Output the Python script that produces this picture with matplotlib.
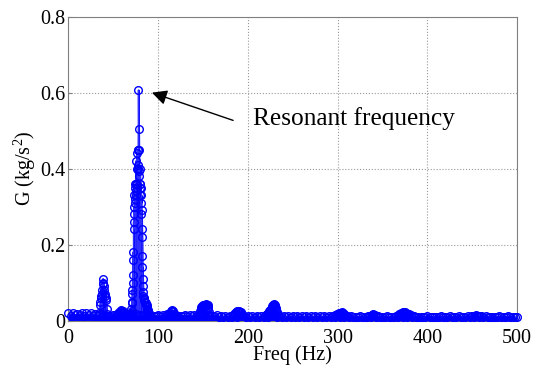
import numpy as np
import matplotlib
matplotlib.use('Agg')
import matplotlib.pyplot as plt

plt.rcParams['font.family'] = 'Liberation Serif'
plt.rcParams['mathtext.fontset'] = 'custom'
plt.rcParams['mathtext.rm'] = 'Liberation Serif'

# noise floor, every 2.5 Hz
base_f = [0, 2.5, 5, 7.5, 10, 12.5, 15, 17.5, 20, 22.5,
          25, 27.5, 30, 32.5, 35, 37.5, 40, 42.5, 45, 47.5,
          50, 52.5, 55, 57.5, 60, 62.5, 65, 67.5, 70, 72.5,
          75, 77.5, 80, 82.5, 85, 87.5, 90, 92.5, 95, 97.5,
          100, 102.5, 105, 107.5, 110, 112.5, 115, 117.5, 120, 122.5,
          125, 127.5, 130, 132.5, 135, 137.5, 140, 142.5, 145, 147.5,
          150, 152.5, 155, 157.5, 160, 162.5, 165, 167.5, 170, 172.5,
          175, 177.5, 180, 182.5, 185, 187.5, 190, 192.5, 195, 197.5,
          200, 202.5, 205, 207.5, 210, 212.5, 215, 217.5, 220, 222.5,
          225, 227.5, 230, 232.5, 235, 237.5, 240, 242.5, 245, 247.5,
          250, 252.5, 255, 257.5, 260, 262.5, 265, 267.5, 270, 272.5,
          275, 277.5, 280, 282.5, 285, 287.5, 290, 292.5, 295, 297.5,
          300, 302.5, 305, 307.5, 310, 312.5, 315, 317.5, 320, 322.5,
          325, 327.5, 330, 332.5, 335, 337.5, 340, 342.5, 345, 347.5,
          350, 352.5, 355, 357.5, 360, 362.5, 365, 367.5, 370, 372.5,
          375, 377.5, 380, 382.5, 385, 387.5, 390, 392.5, 395, 397.5,
          400, 402.5, 405, 407.5, 410, 412.5, 415, 417.5, 420, 422.5,
          425, 427.5, 430, 432.5, 435, 437.5, 440, 442.5, 445, 447.5,
          450, 452.5, 455, 457.5, 460, 462.5, 465, 467.5, 470, 472.5,
          475, 477.5, 480, 482.5, 485, 487.5, 490, 492.5, 495, 497.5,
          500]
base_g = [0.019, 0.013, 0.020, 0.014, 0.018, 0.014, 0.021, 0.013, 0.019, 0.014,
          0.020, 0.013, 0.017, 0.012, 0.016, 0.012, 0.014, 0.011, 0.013, 0.011,
          0.014, 0.012, 0.016, 0.012, 0.019, 0.013, 0.018, 0.012, 0.016, 0.013,
          0.016, 0.013, 0.014, 0.012, 0.016, 0.011, 0.014, 0.011, 0.013, 0.011,
          0.014, 0.011, 0.015, 0.012, 0.016, 0.011, 0.015, 0.011, 0.014, 0.011,
          0.013, 0.011, 0.014, 0.011, 0.015, 0.012, 0.014, 0.011, 0.013, 0.011,
          0.016, 0.011, 0.014, 0.011, 0.013, 0.011, 0.014, 0.010, 0.012, 0.010,
          0.013, 0.010, 0.012, 0.010, 0.014, 0.010, 0.015, 0.011, 0.013, 0.010,
          0.013, 0.010, 0.012, 0.010, 0.013, 0.010, 0.012, 0.010, 0.014, 0.010,
          0.016, 0.011, 0.014, 0.010, 0.013, 0.010, 0.012, 0.010, 0.012, 0.010,
          0.011, 0.009, 0.012, 0.009, 0.011, 0.009, 0.012, 0.009, 0.011, 0.009,
          0.011, 0.009, 0.012, 0.009, 0.011, 0.009, 0.011, 0.009, 0.012, 0.009,
          0.013, 0.010, 0.012, 0.009, 0.011, 0.009, 0.011, 0.009, 0.010, 0.009,
          0.011, 0.009, 0.010, 0.009, 0.011, 0.009, 0.012, 0.009, 0.011, 0.009,
          0.010, 0.009, 0.011, 0.009, 0.010, 0.009, 0.011, 0.009, 0.012, 0.009,
          0.013, 0.009, 0.012, 0.009, 0.011, 0.009, 0.010, 0.009, 0.010, 0.009,
          0.011, 0.009, 0.010, 0.009, 0.010, 0.009, 0.011, 0.009, 0.010, 0.009,
          0.011, 0.009, 0.010, 0.009, 0.011, 0.009, 0.010, 0.009, 0.011, 0.009,
          0.011, 0.009, 0.012, 0.009, 0.011, 0.009, 0.011, 0.009, 0.010, 0.009,
          0.010, 0.009, 0.011, 0.009, 0.010, 0.009, 0.011, 0.009, 0.010, 0.009,
          0.010]

# sub-harmonic peak near 38 Hz
p38_f = [34, 34.5, 35, 35.5, 36, 36.5, 37, 37.5, 38, 38.5,
         39, 39.5, 40, 40.5, 41, 41.5, 42, 42.5, 43]
p38_g = [0.015, 0.02, 0.04, 0.05, 0.065, 0.06, 0.08, 0.07, 0.10, 0.11,
         0.095, 0.09, 0.08, 0.07, 0.065, 0.06, 0.055, 0.03, 0.018]

p59_f = [54, 55, 56, 57, 58, 59, 60, 61, 62, 63]
p59_g = [0.017, 0.018, 0.022, 0.022, 0.026, 0.028, 0.026, 0.024, 0.02, 0.015]

# main resonance
p78_f = [69, 69.25, 69.5, 69.75, 70, 70.25, 70.5, 70.75,
         71, 71.25, 71.5, 71.75, 72, 72.25, 72.5, 72.75,
         73, 73.25, 73.5, 73.75, 74, 74.25, 74.5, 74.75,
         75, 75.25, 75.5, 75.75, 76, 76.25, 76.5, 76.75,
         77, 77.25, 77.5, 77.75, 78, 78.25, 78.5, 78.75,
         79, 79.25, 79.5, 79.75, 80, 80.25, 80.5, 80.75,
         81, 81.25, 81.5, 81.75, 82, 82.25, 82.5, 82.75,
         83, 83.25, 83.5, 83.75, 84, 84.25, 84.5, 84.75,
         85, 85.5, 86, 86.5, 87, 87.5, 88, 88.5,
         89, 89.5, 90]
p78_g = [0.015, 0.012, 0.02, 0.018, 0.03, 0.025, 0.05, 0.045,
         0.08, 0.07, 0.12, 0.10, 0.18, 0.16, 0.26, 0.24,
         0.30, 0.28, 0.33, 0.31, 0.35, 0.32, 0.36, 0.33,
         0.42, 0.34, 0.36, 0.34, 0.40, 0.35, 0.44, 0.36,
         0.45, 0.40, 0.41, 0.45, 0.607, 0.505, 0.45, 0.38,
         0.395, 0.36, 0.40, 0.35, 0.36, 0.33, 0.35, 0.31,
         0.33, 0.28, 0.29, 0.24, 0.22, 0.17, 0.14, 0.11,
         0.09, 0.075, 0.065, 0.06, 0.06, 0.055, 0.055, 0.05,
         0.05, 0.048, 0.045, 0.042, 0.04, 0.035, 0.03, 0.028,
         0.025, 0.02, 0.016]

p115_f = [111, 112, 113, 114, 115, 116, 117, 118, 119]
p115_g = [0.015, 0.017, 0.021, 0.024, 0.027, 0.025, 0.022, 0.018, 0.014]

p152_f = [146, 146.5, 147, 147.5, 148, 148.5, 149, 149.5, 150, 150.5,
          151, 151.5, 152, 152.5, 153, 153.5, 154, 154.5, 155, 155.5,
          156, 156.5, 157]
p152_g = [0.015, 0.018, 0.026, 0.03, 0.035, 0.036, 0.038, 0.038, 0.04, 0.039,
          0.041, 0.04, 0.042, 0.04, 0.043, 0.041, 0.042, 0.04, 0.04, 0.036,
          0.03, 0.022, 0.015]

p189_f = [184, 185, 186, 187, 188, 189, 190, 191, 192, 193, 194]
p189_g = [0.013, 0.016, 0.02, 0.022, 0.025, 0.026, 0.025, 0.023, 0.022, 0.017, 0.013]

p229_f = [219, 220, 221, 222, 223, 224, 225, 225.5, 226, 226.5,
          227, 227.5, 228, 228.5, 229, 229.5, 230, 230.5, 231, 231.5,
          232, 233, 234]
p229_g = [0.013, 0.015, 0.017, 0.019, 0.021, 0.024, 0.027, 0.029, 0.031, 0.034,
          0.037, 0.039, 0.041, 0.042, 0.043, 0.042, 0.04, 0.037, 0.033, 0.028,
          0.022, 0.016, 0.013]

p304_f = [295, 297, 299, 300, 301, 302, 303, 304, 305, 306, 307, 308, 310]
p304_g = [0.012, 0.014, 0.016, 0.017, 0.018, 0.019, 0.02, 0.021, 0.022, 0.02, 0.018, 0.015, 0.012]

p339_f = [334, 336, 338, 340, 342, 344]
p339_g = [0.011, 0.013, 0.015, 0.016, 0.014, 0.012]

p375_f = [367, 368, 369, 370, 371, 372, 373, 374, 375, 376, 377, 378, 380, 382, 384]
p375_g = [0.012, 0.014, 0.016, 0.018, 0.02, 0.021, 0.022, 0.023, 0.022, 0.02, 0.018,
          0.017, 0.016, 0.014, 0.012]

p455_f = [450, 452, 454, 456, 458, 460]
p455_g = [0.011, 0.012, 0.014, 0.013, 0.012, 0.011]

freq = np.concatenate([base_f, p38_f, p59_f, p78_f, p115_f, p152_f, p189_f,
                       p229_f, p304_f, p339_f, p375_f, p455_f])
G = np.concatenate([base_g, p38_g, p59_g, p78_g, p115_g, p152_g, p189_g,
                    p229_g, p304_g, p339_g, p375_g, p455_g])
order = np.argsort(freq, kind='stable')
freq = freq[order]
G = G[order]

fig = plt.figure(figsize=(5.33, 3.69), dpi=100)
ax = fig.add_axes([0.1285, 0.1314, 0.8415, 0.8233])

ax.fill_between(freq, 0, G, facecolor='#0000ff', edgecolor='#0000ff', lw=1.2,
                zorder=2)
ax.plot(freq, G, '-', color='#3030ff', lw=1.0, zorder=2)
ax.plot(freq, G, 'o', mfc='none', mec='#0000ff', ms=5.5, mew=1.0, zorder=3,
        clip_on=False)

ax.set_xlim(0, 500)
ax.set_ylim(0, 0.8)
ax.set_xticks([0, 100, 200, 300, 400, 500])
ax.set_yticks([0, 0.2, 0.4, 0.6, 0.8])
ax.set_yticklabels(['0', '0.2', '0.4', '0.6', '0.8'])
ax.grid(True, ls=':', color='#999999', lw=0.8)
ax.set_axisbelow(True)
for s in ax.spines.values():
    s.set_color('#808080')
    s.set_linewidth(0.8)
ax.tick_params(direction='in', length=3, color='#808080', labelsize=14.5)
ax.tick_params(axis='x', pad=6)
ax.tick_params(axis='y', pad=2)

ax.set_xlabel('Freq (Hz)', fontsize=14.5, labelpad=-2)
ax.set_ylabel('G (kg/s$^2$)', fontsize=14.5, labelpad=2)

ax.annotate('', xy=(93, 0.6), xytext=(183.5, 0.527),
            arrowprops=dict(arrowstyle='-|>,head_length=0.9,head_width=0.45',
                            color='black', lw=1.0, shrinkA=0, shrinkB=0))
ax.text(205.5, 0.533, 'Resonant frequency', fontsize=18.3, va='center', ha='left')

fig.savefig('out.png', dpi=100)
